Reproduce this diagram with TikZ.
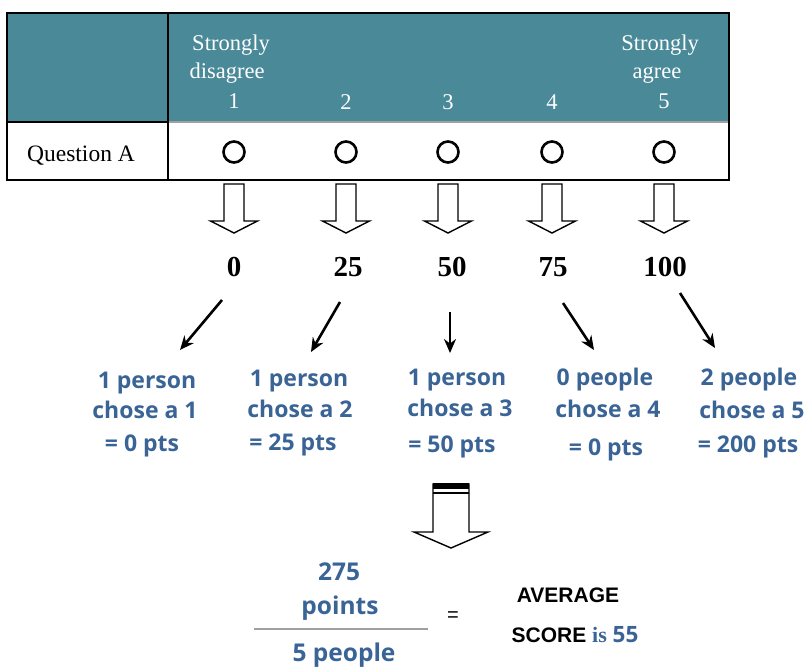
\documentclass[tikz,border=0pt]{standalone}
\usepackage{fontspec}
\setmainfont{Liberation Serif}
\newfontfamily\bluesans{Open Sans}
\newfontfamily\blacksans{Liberation Sans}
\usetikzlibrary{arrows.meta}
\definecolor{teal}{RGB}{73,137,152}
\definecolor{scoreblue}{RGB}{58,100,150}
\definecolor{rulegray}{RGB}{160,160,160}
\newcommand\hollowarrow[6]{%
  \draw[hollow] ({#1-#3},{#2}) -- ({#1+#3},{#2}) -- ({#1+#3},{#5}) -- ({#1+#4},{#5})
    -- ({#1},{#6}) -- ({#1-#4},{#5}) -- ({#1-#3},{#5}) -- cycle;}
\begin{document}
\begin{tikzpicture}[x=1pt,y=-1pt,
  hdr/.style={text=white,font=\fontsize{22.5}{28}\selectfont,align=center,anchor=base,inner sep=0pt},
  num/.style={font=\fontsize{29}{30}\selectfont\bfseries,anchor=base,inner sep=0pt},
  bluetxt/.style={text=scoreblue,font=\fontsize{23}{24}\selectfont\bluesans\bfseries,anchor=base,inner sep=0pt},
  fractxt/.style={bluetxt,font=\fontsize{24.5}{26}\selectfont\bluesans\bfseries},
  blktxt/.style={font=\fontsize{21}{24}\selectfont\blacksans\bfseries,anchor=base,inner sep=0pt},
  choice/.style={circle,draw,line width=2.6pt,minimum size=21pt,inner sep=0pt},
  hollow/.style={draw,line width=1.4pt,fill=white,line join=miter},
  thinarrow/.style={line width=2.6pt,-{Stealth[length=14pt,width=12pt]}}]
\useasboundingbox (0,0) rectangle (807,667);
% table
\fill[teal] (7,13) rectangle (729,122);
\draw[line width=1.5pt] (7,13) rectangle (729,180);
\draw[line width=1.5pt] (168,13) -- (168,180);
\draw[line width=1.5pt] (7,122) -- (168,122);
\draw[rulegray,line width=2.5pt] (169,122) -- (728,122);
% header text
\node[hdr] (sd) at (231,50) {Strongly};
\node[hdr] (sd2) at (227,78) {disagree};
\node[hdr] (sa) at (660,50) {Strongly};
\node[hdr] (sa2) at (657,78) {agree};
\node[hdr] (h1) at (234,108) {1};
\node[hdr] (h2) at (346,109) {2};
\node[hdr] (h3) at (448,109) {3};
\node[hdr] (h4) at (552,109) {4};
\node[hdr] (h5) at (664,108) {5};
\node[font=\fontsize{23.5}{24}\selectfont,anchor=base,inner sep=0pt] (qa) at (81,161) {Question A};
% circles
\foreach \i/\x in {1/234,2/346,3/448,4/552,5/664}{
  \node[choice] (c\i) at (\x,152) {};
  \hollowarrow{\x}{184}{10}{23.5}{221}{233}
}
% numbers
\node[num] (n1) at (234,276) {0};
\node[num] (n2) at (348,276) {25};
\node[num] (n3) at (452,276) {50};
\node[num] (n4) at (553,276) {75};
\node[num] (n5) at (665,276) {100};
% result texts
\node[bluetxt] (t1a) at (147,388) {1 person};
\node[bluetxt] (t1b) at (145,418) {chose a 1};
\node[bluetxt] (t1c) at (142,451) {= 0 pts};
\node[bluetxt] (t2a) at (299,386) {1 person};
\node[bluetxt] (t2b) at (300,417) {chose a 2};
\node[bluetxt] (t2c) at (293,450) {= 25 pts};
\node[bluetxt] (t3a) at (457,385) {1 person};
\node[bluetxt] (t3b) at (460,416) {chose a 3};
\node[bluetxt] (t3c) at (452,452) {= 50 pts};
\node[bluetxt] (t4a) at (605,385) {0 people};
\node[bluetxt] (t4b) at (608,417) {chose a 4};
\node[bluetxt] (t4c) at (606,455) {= 0 pts};
\node[bluetxt] (t5a) at (749,385) {2 people};
\node[bluetxt] (t5b) at (752,418) {chose a 5};
\node[bluetxt] (t5c) at (748,452) {= 200 pts};
% thin arrows
\coordinate (s1) at (222,300); \coordinate (e1) at (180,350);
\coordinate (s2) at (340,302); \coordinate (e2) at (311,352);
\coordinate (s3) at (450,312); \coordinate (e3) at (450,353);
\coordinate (s4) at (563,303); \coordinate (e4) at (594,350);
\coordinate (s5) at (680,293); \coordinate (e5) at (715,348);
\foreach \i in {1,...,5}{\draw[thinarrow] (s\i) -- (e\i);}
% big arrow
\hollowarrow{451}{484}{18}{37}{532}{548}
\fill (433,483) rectangle (469,489);
\draw[line width=1.2pt] (433,493) -- (469,493);
% fraction
\node[fractxt] (f1) at (339,580) {275};
\node[fractxt] (f2) at (340,614) {points};
\draw[rulegray,line width=2.5pt] (254,629) -- (428,629);
\node[fractxt] (f3) at (344,661) {5 people};
\node[font=\fontsize{20}{22}\selectfont\blacksans,anchor=center,inner sep=0pt] (eq) at (453,617) {=};
\node[blktxt] (avg) at (568,602) {AVERAGE};
\node[blktxt,anchor=base] (sc) at (575,642) {SCORE {\color{scoreblue}\fontsize{22}{24}\selectfont\rmfamily\bfseries is} {\color{scoreblue}\bluesans\fontsize{22.5}{24}\selectfont 55}};
\end{tikzpicture}
\end{document}
